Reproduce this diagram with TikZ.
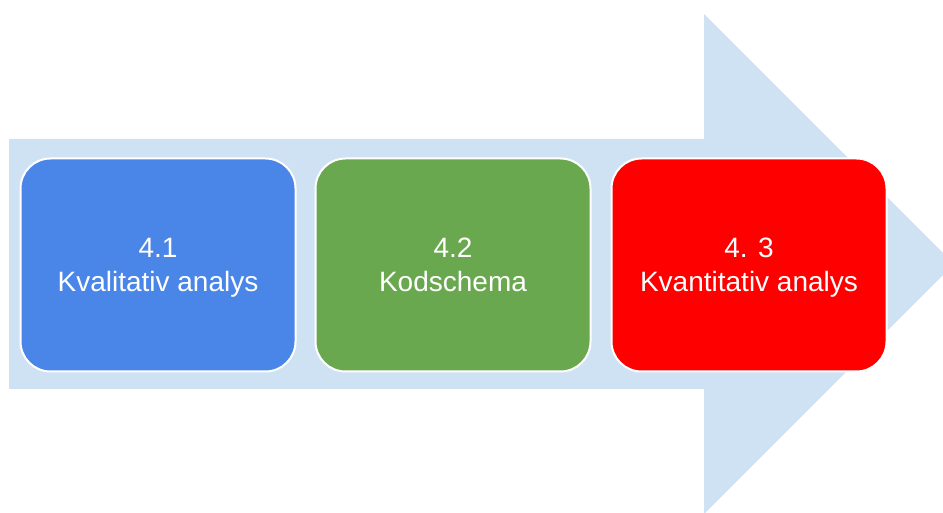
\documentclass[tikz,border=0pt]{standalone}
\usepackage{fontspec}
\setmainfont{Liberation Sans}
\usepackage{tikz}
\usetikzlibrary{positioning}
\definecolor{arrowblue}{HTML}{CFE2F3}
\definecolor{stageblue}{HTML}{4A86E8}
\definecolor{stagegreen}{HTML}{6AA84F}
\definecolor{stagered}{HTML}{FF0000}

\begin{document}
\begin{tikzpicture}[x=1pt,y=1pt]
				\tikzset{stage/.style={draw=white,line width=2pt,rounded corners=30pt,minimum width=275pt,minimum height=213pt,align=center,text=white,text height=58pt,text depth=4pt,font=\fontsize{28}{34}\selectfont}}
				\useasboundingbox (0,0) rectangle (943,513);
				\begin{scope}
				\clip (0,0) rectangle (943,513);
				\fill[arrowblue] (9,374) -- (704,374) -- (704,499) -- (954,249) -- (704,-1) -- (704,124) -- (9,124) -- cycle;
				\end{scope}
				\node[stage,fill=stageblue] (kval) at (158,248) {4.1\\Kvalitativ analys};
				\node[stage,fill=stagegreen,right=18pt of kval] (kod) {4.2\\Kodschema};
				\node[stage,fill=stagered,right=19pt of kod] (kvant) {4. 3\\Kvantitativ analys};
			\end{tikzpicture}
\end{document}
